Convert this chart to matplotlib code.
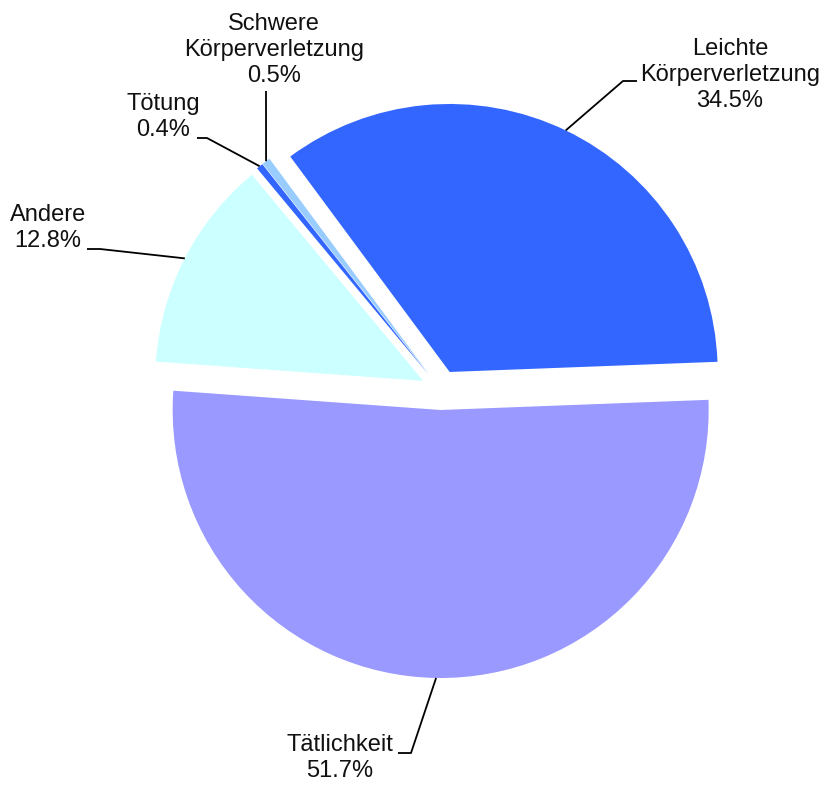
import numpy as np
import matplotlib
matplotlib.use("Agg")
import matplotlib.pyplot as plt

plt.rcParams['font.family'] = ['Liberation Sans', 'DejaVu Sans']

categories = ["Leichte\nKörperverletzung", "Tätlichkeit", "Andere", "Tötung", "Schwere\nKörperverletzung"]
values = [34.5, 51.7, 12.8, 0.4, 0.5]
colors = ["#3366FF", "#9999FF", "#CCFFFF", "#3366FF", "#99CCFF"]

W, H = 826, 785
fig = plt.figure(figsize=(W / 100, H / 100), dpi=100)
ax = fig.add_axes([0, 0, 1, 1])

cx, cy = 441, H - 390
R = 268
wedges, _ = ax.pie(values, colors=colors, startangle=126.5, counterclock=False,
                   explode=[20] * len(values), center=(cx, cy), radius=R,
                   wedgeprops=dict(linewidth=0), frame=True)
ax.set_xlim(0, W)
ax.set_ylim(0, H)
ax.set_aspect('equal')
ax.axis('off')

# label positions (image coords) and leader line elbows
label_pos = [(730, 75), (340, 758), (48, 228), (163, 117), (274, 50)]
elbows = [[(623, 81), (637, 81)],
          [(411, 753), (398, 753)],
          [(100, 249), (87, 249)],
          [(207, 138), (197, 138)],
          [(266, 91)]]

for w, val, name, lp, elb in zip(wedges, values, categories, label_pos, elbows):
    ang = np.deg2rad((w.theta1 + w.theta2) / 2)
    wx, wy = w.center
    sx = wx + w.r * np.cos(ang)
    sy = wy + w.r * np.sin(ang)
    xs = [sx] + [p[0] for p in elb]
    ys = [sy] + [H - p[1] for p in elb]
    ax.plot(xs, ys, color='black', lw=1.3, solid_capstyle='butt')
    ax.text(lp[0], H - lp[1], f"{name}\n{val:.1f}%", ha='center', va='center',
            multialignment='center', fontsize=17, linespacing=1.22, color='#111111')

fig.savefig("out.png", dpi=100)
